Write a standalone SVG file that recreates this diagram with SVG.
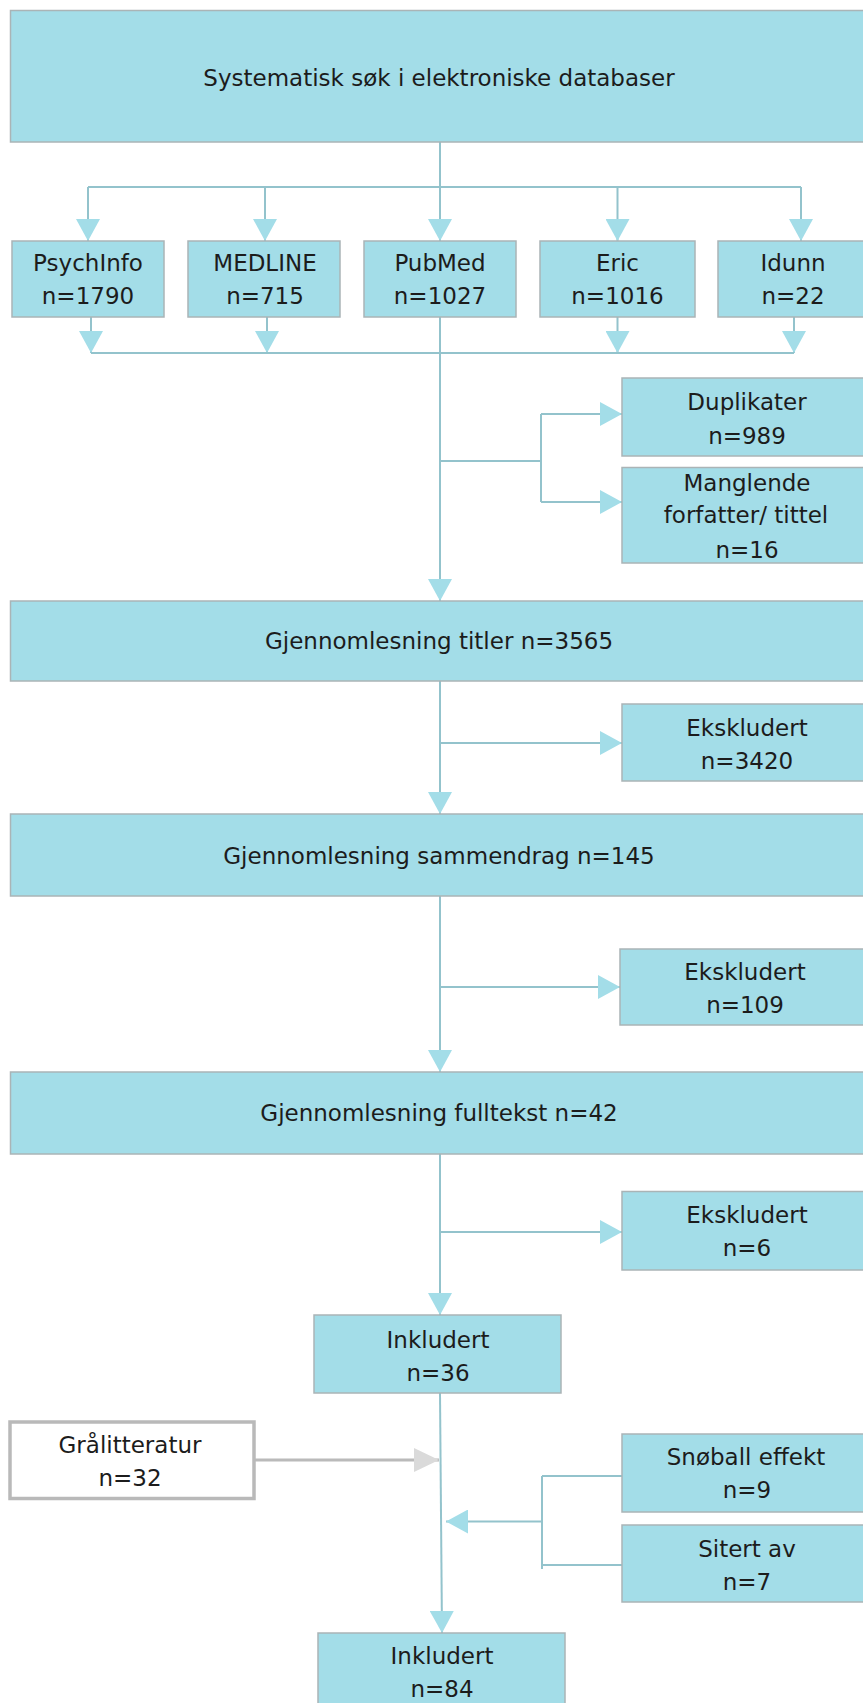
<svg xmlns="http://www.w3.org/2000/svg" width="863" height="1703" viewBox="0 0 863 1703">
<style>
.box{fill:#a3dde8;stroke:#aab4b6;stroke-width:1.5}
.gbox{fill:#ffffff;stroke:#b9b9b9;stroke-width:3.5}
.t{font-family:"DejaVu Sans","Liberation Sans",sans-serif;font-size:23px;fill:#1c1c1c;text-anchor:middle}
.c{stroke:#93c3cc;stroke-width:2;fill:none}
.a{stroke:#93c3cc;stroke-width:2;fill:none;marker-end:url(#ah)}
.g{stroke:#bababa;stroke-width:3;fill:none;marker-end:url(#gh)}
</style>
<defs>
<marker id="ah" viewBox="0 0 22 24" refX="22" refY="12" markerWidth="22" markerHeight="24" markerUnits="userSpaceOnUse" orient="auto">
<path d="M0,0 L22,12 L0,24 Z" fill="#a3dde8"/>
</marker>
<marker id="gh" viewBox="0 0 25 24" refX="25" refY="12" markerWidth="25" markerHeight="24" markerUnits="userSpaceOnUse" orient="auto">
<path d="M0,0 L25,12 L0,24 Z" fill="#dadada"/>
</marker>
</defs>
<rect width="863" height="1703" fill="#ffffff"/>
<g id="connectors">
<path class="c" d="M88,187 H801"/>
<path class="a" d="M440,142 V241"/>
<path class="a" d="M88,187 V241"/>
<path class="a" d="M265,187 V241"/>
<path class="a" d="M617.5,187 V241"/>
<path class="a" d="M801,187 V241"/>
<path class="a" d="M91,317 V353"/>
<path class="a" d="M267,317 V353"/>
<path class="a" d="M617.5,317 V353"/>
<path class="a" d="M794,317 V353"/>
<path class="c" d="M91,353 H794"/>
<path class="a" d="M440,317 V601"/>
<path class="c" d="M440,461 H541 M541,414 V502"/>
<path class="a" d="M541,414 H622"/>
<path class="a" d="M541,502 H622"/>
<path class="a" d="M440,681 V814"/>
<path class="a" d="M440,743 H622"/>
<path class="a" d="M440,896 V1072"/>
<path class="a" d="M440,987 H620"/>
<path class="a" d="M440,1154 V1315"/>
<path class="a" d="M440,1232 H622"/>
<path class="a" d="M440,1393 L442,1633"/>
<path class="g" d="M254,1460 H439"/>
<path class="c" d="M622,1476 H542 M542,1476 V1569 M622,1565 H542"/>
<path class="a" d="M542,1521.5 H446"/>
</g>
<g id="n-sok">
<rect class="box" x="10.5" y="10.5" width="858" height="131.5"/>
<text class="t" x="439" y="86">Systematisk søk i elektroniske databaser</text>
</g>
<g id="n-psychinfo">
<rect class="box" x="12" y="241" width="152" height="76"/>
<text class="t" x="88" y="271">PsychInfo</text>
<text class="t" x="88" y="304">n=1790</text>
</g>
<g id="n-medline">
<rect class="box" x="188" y="241" width="152" height="76"/>
<text class="t" x="265" y="271">MEDLINE</text>
<text class="t" x="265" y="304">n=715</text>
</g>
<g id="n-pubmed">
<rect class="box" x="364" y="241" width="152" height="76"/>
<text class="t" x="440" y="271">PubMed</text>
<text class="t" x="440" y="304">n=1027</text>
</g>
<g id="n-eric">
<rect class="box" x="540" y="241" width="155" height="76"/>
<text class="t" x="617.5" y="271">Eric</text>
<text class="t" x="617.5" y="304">n=1016</text>
</g>
<g id="n-idunn">
<rect class="box" x="718" y="241" width="150" height="76"/>
<text class="t" x="793" y="271">Idunn</text>
<text class="t" x="793" y="304">n=22</text>
</g>
<g id="n-duplikater">
<rect class="box" x="622" y="378" width="250" height="78"/>
<text class="t" x="747" y="410">Duplikater</text>
<text class="t" x="747" y="444">n=989</text>
</g>
<g id="n-manglende">
<rect class="box" x="622" y="467.5" width="250" height="95.5"/>
<text class="t" x="747" y="491">Manglende</text>
<text class="t" x="746" y="523">forfatter/ tittel</text>
<text class="t" x="747" y="558">n=16</text>
</g>
<g id="n-titler">
<rect class="box" x="10.5" y="601" width="858" height="80"/>
<text class="t" x="439" y="649">Gjennomlesning titler n=3565</text>
</g>
<g id="n-eks1">
<rect class="box" x="622" y="704" width="250" height="77"/>
<text class="t" x="747" y="735.5">Ekskludert</text>
<text class="t" x="747" y="768.5">n=3420</text>
</g>
<g id="n-sammendrag">
<rect class="box" x="10.5" y="814" width="858" height="82"/>
<text class="t" x="439" y="863.5">Gjennomlesning sammendrag n=145</text>
</g>
<g id="n-eks2">
<rect class="box" x="620" y="949" width="252" height="76"/>
<text class="t" x="745" y="979.5">Ekskludert</text>
<text class="t" x="745" y="1012.5">n=109</text>
</g>
<g id="n-fulltekst">
<rect class="box" x="10.5" y="1072" width="858" height="82"/>
<text class="t" x="439" y="1120.5">Gjennomlesning fulltekst n=42</text>
</g>
<g id="n-eks3">
<rect class="box" x="622" y="1191.5" width="250" height="78.5"/>
<text class="t" x="747" y="1222.5">Ekskludert</text>
<text class="t" x="747" y="1255.5">n=6</text>
</g>
<g id="n-inkl36">
<rect class="box" x="314" y="1315" width="247" height="78"/>
<text class="t" x="438" y="1348">Inkludert</text>
<text class="t" x="438" y="1380.5">n=36</text>
</g>
<g id="n-gra">
<rect class="gbox" x="10" y="1422" width="244" height="76.5"/>
<text class="t" x="130" y="1453">Grålitteratur</text>
<text class="t" x="130" y="1486">n=32</text>
</g>
<g id="n-snoball">
<rect class="box" x="622" y="1434" width="250" height="78"/>
<text class="t" x="746" y="1464.5">Snøball effekt</text>
<text class="t" x="747" y="1497.5">n=9</text>
</g>
<g id="n-sitert">
<rect class="box" x="622" y="1525" width="250" height="77"/>
<text class="t" x="747" y="1556.5">Sitert av</text>
<text class="t" x="747" y="1589.5">n=7</text>
</g>
<g id="n-inkl84">
<rect class="box" x="318" y="1633" width="247" height="80"/>
<text class="t" x="442" y="1663.5">Inkludert</text>
<text class="t" x="442" y="1696.5">n=84</text>
</g>
</svg>
